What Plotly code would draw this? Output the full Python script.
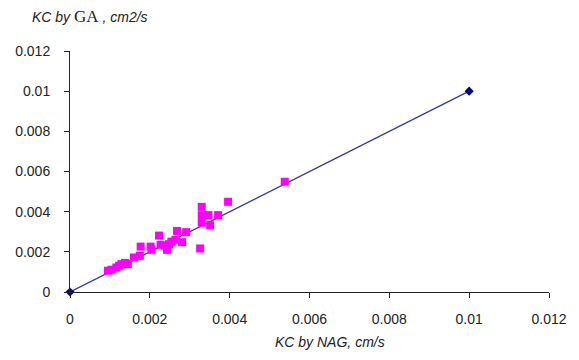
import plotly.graph_objects as go

# Measured points: KC by NAG (x) vs KC by GA (y)
nag = [0.00095, 0.00104, 0.00116, 0.00123, 0.00129, 0.00138, 0.00145, 0.00160,
       0.00175, 0.00177, 0.00202, 0.00204, 0.00223, 0.00227, 0.00238, 0.00243,
       0.00248, 0.00254, 0.00264, 0.00268, 0.00281, 0.00291, 0.00326, 0.00330,
       0.00330, 0.00330, 0.00347, 0.00351, 0.00371, 0.00396, 0.00538]
ga = [0.00106, 0.00111, 0.00122, 0.00131, 0.00139, 0.00145, 0.00139, 0.00172,
      0.00180, 0.00226, 0.00226, 0.00210, 0.00281, 0.00235, 0.00231, 0.00210,
      0.00238, 0.00251, 0.00260, 0.00304, 0.00248, 0.00298, 0.00217, 0.00345,
      0.00424, 0.00383, 0.00383, 0.00333, 0.00383, 0.00449, 0.00549]

# 1:1 reference line
line_x = [0.0, 0.01]
line_y = [0.0, 0.01]

tick_vals = [0, 0.002, 0.004, 0.006, 0.008, 0.01, 0.012]
tick_text = ["0", "0.002", "0.004", "0.006", "0.008", "0.01", "0.012"]

fig = go.Figure()
fig.add_trace(go.Scatter(
    x=line_x, y=line_y, mode="lines+markers",
    line=dict(color="#3a3a9a", width=1.3),
    marker=dict(symbol="diamond", size=7, color="#000080"),
    cliponaxis=False, showlegend=False))
fig.add_trace(go.Scatter(
    x=nag, y=ga, mode="markers",
    marker=dict(symbol="square", size=8, color="#ff00ff"),
    cliponaxis=False, showlegend=False))

axis_common = dict(
    tickmode="array", tickvals=tick_vals, ticktext=tick_text,
    showgrid=False, zeroline=False, showline=True, linecolor="#222",
    linewidth=1, ticks="outside", ticklen=5, tickcolor="#222",
    tickfont=dict(family="Liberation Sans, Arial", size=14, color="#222"),
    range=[0, 0.012], fixedrange=True)

fig.update_xaxes(**axis_common, ticklabelstandoff=9)
fig.update_yaxes(**axis_common, ticklabelstandoff=11)

fig.update_layout(
    width=579, height=360,
    margin=dict(l=70, r=26, t=51, b=68),
    plot_bgcolor="white", paper_bgcolor="white",
    annotations=[
        dict(text="<i>KC by </i><span style='font-family:Liberation Serif;font-size:17px'>GA</span><i> , cm2/s</i>",
             xref="paper", yref="paper", x=-0.083, y=1.143, xanchor="left", yanchor="middle",
             showarrow=False, font=dict(family="Liberation Sans, Arial", size=14, color="#222")),
        dict(text="<i>KC by NAG, cm/s</i>",
             xref="paper", yref="paper", x=0.424, y=-0.207, xanchor="left", yanchor="middle",
             showarrow=False, font=dict(family="Liberation Sans, Arial", size=14, color="#222")),
    ],
)

fig.write_html("out.html")
